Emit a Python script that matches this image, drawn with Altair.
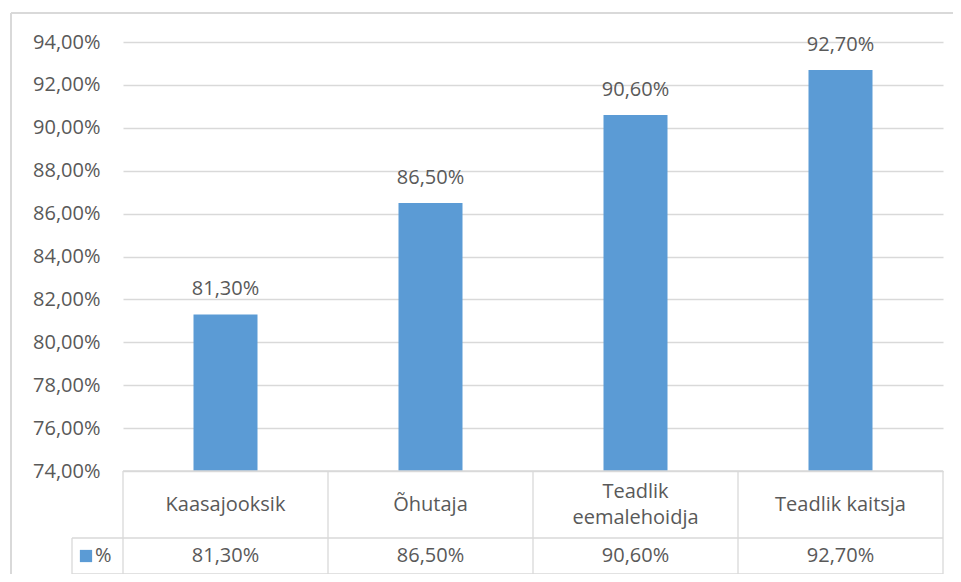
import altair as alt
import pandas as pd

categories = ["Kaasajooksik", "Õhutaja", "Teadlik eemalehoidja", "Teadlik kaitsja"]
header_labels = ["Kaasajooksik", "Õhutaja", "Teadlik\neemalehoidja", "Teadlik kaitsja"]
values = [81.3, 86.5, 90.6, 92.7]
y_ticks = [74, 76, 78, 80, 82, 84, 86, 88, 90, 92, 94]
y_domain = [74, 94]
series_name = "%"

FONT = "Open Sans"
TEXT = "#595959"
LINE = "#D9D9D9"
BAR = "#5B9BD5"
FS = 20
LH = 26

df = pd.DataFrame({
    "cat": categories,
    "header": header_labels,
    "value": values,
    "base": [y_domain[0]] * len(values),
    "label": [f"{v:.2f}".replace(".", ",") + "%" for v in values],
})
one = pd.DataFrame({"name": [series_name]})

W, H = 820, 429
ROW1, ROW2 = 496, 532
xscale = alt.Scale(paddingInner=0, paddingOuter=0)
xenc = alt.X("cat:N", sort=categories, axis=None, scale=xscale)

bars = alt.Chart(df).mark_bar(width={"band": 64 / 205}, color=BAR).encode(
    x=xenc,
    y=alt.Y("value:Q", title=None,
            scale=alt.Scale(domain=y_domain, zero=False, nice=False),
            axis=alt.Axis(values=y_ticks, domain=False, ticks=False,
                          labelPadding=23, labelFontSize=FS, labelFont=FONT,
                          labelColor=TEXT, gridColor=LINE, gridWidth=1.3,
                          labelExpr="replace(format(datum.value, '.2f'), '.', ',') + '%'")),
    y2="base:Q",
)

value_labels = alt.Chart(df).mark_text(
    baseline="alphabetic", dy=-19, fontSize=FS, font=FONT, color=TEXT
).encode(x=xenc, y=alt.Y("value:Q"), text="label:N")

header_text = alt.Chart(df).transform_calculate(
    ypos=f"463 - (length(split(datum.header, '\\n')) - 1) * {LH / 2}"
).mark_text(
    baseline="middle", fontSize=FS, font=FONT, color=TEXT,
    lineBreak="\n", lineHeight=LH
).encode(x=xenc, y=alt.Y("ypos:Q", scale=None), text="header:N")

row_text = alt.Chart(df).mark_text(
    baseline="middle", fontSize=FS, font=FONT, color=TEXT
).encode(x=xenc, y=alt.value((ROW1 + ROW2) / 2), text="label:N")

col_rules = alt.Chart(df).mark_rule(color=LINE, strokeWidth=1.3).encode(
    x=alt.X("cat:N", sort=categories, axis=None, bandPosition=0, scale=xscale),
    y=alt.value(H), y2=alt.value(ROW2))

def rule(**enc):
    sw = enc.pop("sw", 1.3)
    return alt.Chart(one).mark_rule(color=LINE, strokeWidth=sw).encode(**enc)

right_rule = rule(x=alt.value(W), y=alt.value(H), y2=alt.value(ROW2))
h_top = rule(x=alt.value(0), x2=alt.value(W), y=alt.value(H))
h_mid = rule(x=alt.value(-51), x2=alt.value(W), y=alt.value(ROW1))
h_bot = rule(x=alt.value(-51), x2=alt.value(W), y=alt.value(ROW2))
legend_left = rule(x=alt.value(-51), y=alt.value(ROW1), y2=alt.value(ROW2))
outer_left = rule(x=alt.value(-112), y=alt.value(-29), y2=alt.value(560), sw=2)
outer_top = rule(x=alt.value(-112), x2=alt.value(860), y=alt.value(-29), sw=2)

legend_sq = alt.Chart(one).mark_square(color=BAR, size=150, opacity=1).encode(
    x=alt.value(-37), y=alt.value((ROW1 + ROW2) / 2))
legend_txt = alt.Chart(one).mark_text(
    align="left", baseline="middle", fontSize=FS, font=FONT, color=TEXT
).encode(x=alt.value(-28), y=alt.value((ROW1 + ROW2) / 2), text="name:N")

chart = alt.layer(
    outer_left, outer_top, bars, value_labels, h_top, h_mid, h_bot,
    col_rules, right_rule, legend_left, header_text, row_text,
    legend_sq, legend_txt
).properties(
    width=W, height=H,
    autosize=alt.AutoSizeParams(type="none"),
    padding={"left": 115, "top": 34, "right": 10, "bottom": 103},
).configure_view(strokeWidth=0)

chart.save("out.html", embed_options={"renderer": "svg", "actions": False})
